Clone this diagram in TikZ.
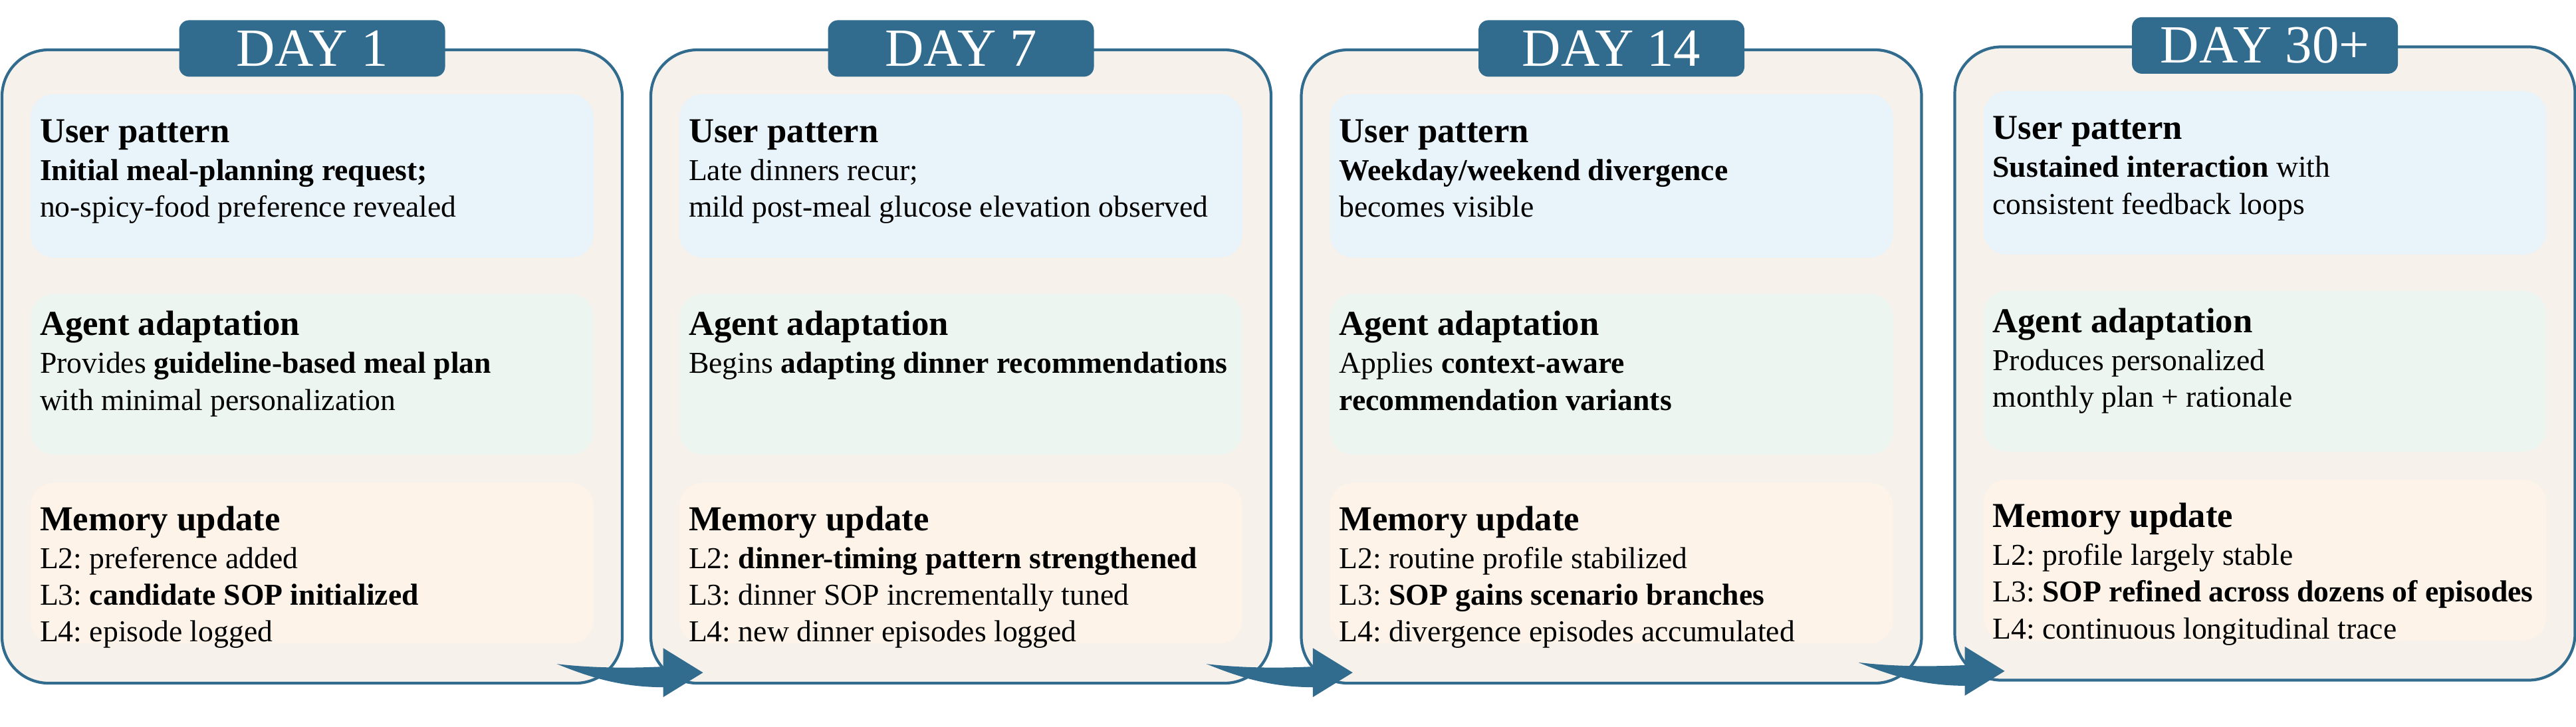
\documentclass[tikz,border=0pt]{standalone}
\usepackage{fontspec}
\setmainfont{Liberation Serif}
\usetikzlibrary{positioning,calc}
\frenchspacing

\definecolor{bordo}{RGB}{49,107,142}
\definecolor{sfondo}{RGB}{246,241,235}
\definecolor{celeste}{RGB}{232,243,250}
\definecolor{verdino}{RGB}{236,245,240}
\definecolor{pesca}{RGB}{253,243,232}

\tikzset{
  pannello/.style={draw=bordo, line width=1.2pt, fill=sfondo, rounded corners=0.7cm,
    minimum width=9.33cm, minimum height=9.53cm, inner sep=0pt},
  linguetta/.style={fill=bordo, text=white, rounded corners=0.15cm, minimum width=4cm,
    minimum height=0.85cm, inner sep=0pt, font=\fontsize{23}{26}\selectfont},
  riquadro/.style={rounded corners=0.35cm, minimum width=8.47cm, inner sep=0pt},
  utente/.style={riquadro, fill=celeste, minimum height=2.46cm},
  agente/.style={riquadro, fill=verdino, minimum height=2.42cm},
  memoria/.style={riquadro, fill=pesca, minimum height=2.42cm},
  testo/.style={anchor=north west, align=left, inner sep=0pt, font=\fontsize{13}{15.7}\selectfont},
  salto/.pic={
    \fill[bordo] (-1.2,0.31) .. controls (-0.6,0.24) and (0,0.25) .. (0.4,0.27)
      -- (0.4,0.55) -- (1.0,0.18) -- (0.4,-0.19) -- (0.4,-0.04)
      .. controls (-0.3,-0.04) and (-0.8,0.15) .. (-1.2,0.31) -- cycle;
  }
}
\newcommand{\titolo}[1]{{\fontsize{15}{15.7}\selectfont\bfseries #1}\\[0.6pt]}

\begin{document}
\begin{tikzpicture}
    % area
    \useasboundingbox (0,0) rectangle (38.75,-10.93);

    % pannelli
    \node[pannello] (d1) at (4.695,-5.515) {};
    \node[pannello] (d2) at (14.455,-5.515) {};
    \node[pannello] (d3) at (24.24,-5.515) {};
    \node[pannello] (d4) at (34.07,-5.47) {};

    % linguette
    \node[linguetta] (t1) at (d1.north) {DAY 1};
    \node[linguetta] (t2) at (d2.north) {DAY 7};
    \node[linguetta] (t3) at (d3.north) {DAY 14};
    \node[linguetta] (t4) at (d4.north) {DAY 30+};

    % riquadri
    \node[utente, below=0.68cm of d1.north] (u1) {};
    \node[agente, below=0.53cm of u1] (a1) {};
    \node[memoria, below=0.41cm of a1] (m1) {};
    \node[utente, below=0.68cm of d2.north] (u2) {};
    \node[agente, below=0.53cm of u2] (a2) {};
    \node[memoria, below=0.41cm of a2] (m2) {};
    \node[utente, below=0.68cm of d3.north] (u3) {};
    \node[agente, below=0.53cm of u3] (a3) {};
    \node[memoria, below=0.41cm of a3] (m3) {};
    \node[utente, below=0.68cm of d4.north] (u4) {};
    \node[agente, below=0.53cm of u4] (a4) {};
    \node[memoria, below=0.41cm of a4] (m4) {};

    % testi giorno 1
    \node[testo] (u1t) at ($(u1.north west)+(0.14,-0.38)$) {\titolo{User pattern}
      \textbf{Initial meal-planning request;}\\ no-spicy-food preference revealed};
    \node[testo] (a1t) at ($(a1.north west)+(0.14,-0.26)$) {\titolo{Agent adaptation}
      Provides \textbf{guideline-based meal plan}\\ with minimal personalization};
    \node[testo] (m1t) at ($(m1.north west)+(0.14,-0.35)$) {\titolo{Memory update}
      L2: preference added\\ L3: \textbf{candidate SOP initialized}\\ L4: episode logged};

    % testi giorno 7
    \node[testo] (u2t) at ($(u2.north west)+(0.14,-0.38)$) {\titolo{User pattern}
      Late dinners recur;\\ mild post-meal glucose elevation observed};
    \node[testo] (a2t) at ($(a2.north west)+(0.14,-0.26)$) {\titolo{Agent adaptation}
      Begins \textbf{adapting dinner recommendations}};
    \node[testo] (m2t) at ($(m2.north west)+(0.14,-0.35)$) {\titolo{Memory update}
      L2: \textbf{dinner-timing pattern strengthened}\\ L3: dinner SOP incrementally tuned\\ L4: new dinner episodes logged};

    % testi giorno 14
    \node[testo] (u3t) at ($(u3.north west)+(0.14,-0.38)$) {\titolo{User pattern}
      \textbf{Weekday/weekend divergence}\\ becomes visible};
    \node[testo] (a3t) at ($(a3.north west)+(0.14,-0.26)$) {\titolo{Agent adaptation}
      Applies \textbf{context-aware}\\ \textbf{recommendation variants}};
    \node[testo] (m3t) at ($(m3.north west)+(0.14,-0.35)$) {\titolo{Memory update}
      L2: routine profile stabilized\\ L3: \textbf{SOP gains scenario branches}\\ L4: divergence episodes accumulated};

    % testi giorno 30+
    \node[testo] (u4t) at ($(u4.north west)+(0.14,-0.38)$) {\titolo{User pattern}
      \textbf{Sustained interaction} with\\ consistent feedback loops};
    \node[testo] (a4t) at ($(a4.north west)+(0.14,-0.26)$) {\titolo{Agent adaptation}
      Produces personalized\\ monthly plan + rationale};
    \node[testo] (m4t) at ($(m4.north west)+(0.14,-0.35)$) {\titolo{Memory update}
      L2: profile largely stable\\ L3: \textbf{SOP refined across dozens of episodes}\\ L4: continuous longitudinal trace};

    % frecce
    \pic at ($(d1.south east)!0.5!(d2.south west)$) {salto};
    \pic at ($(d2.south east)!0.5!(d3.south west)$) {salto};
    \pic at ($(d3.south east)!0.5!(d4.south west)$) {salto};
\end{tikzpicture}
\end{document}
